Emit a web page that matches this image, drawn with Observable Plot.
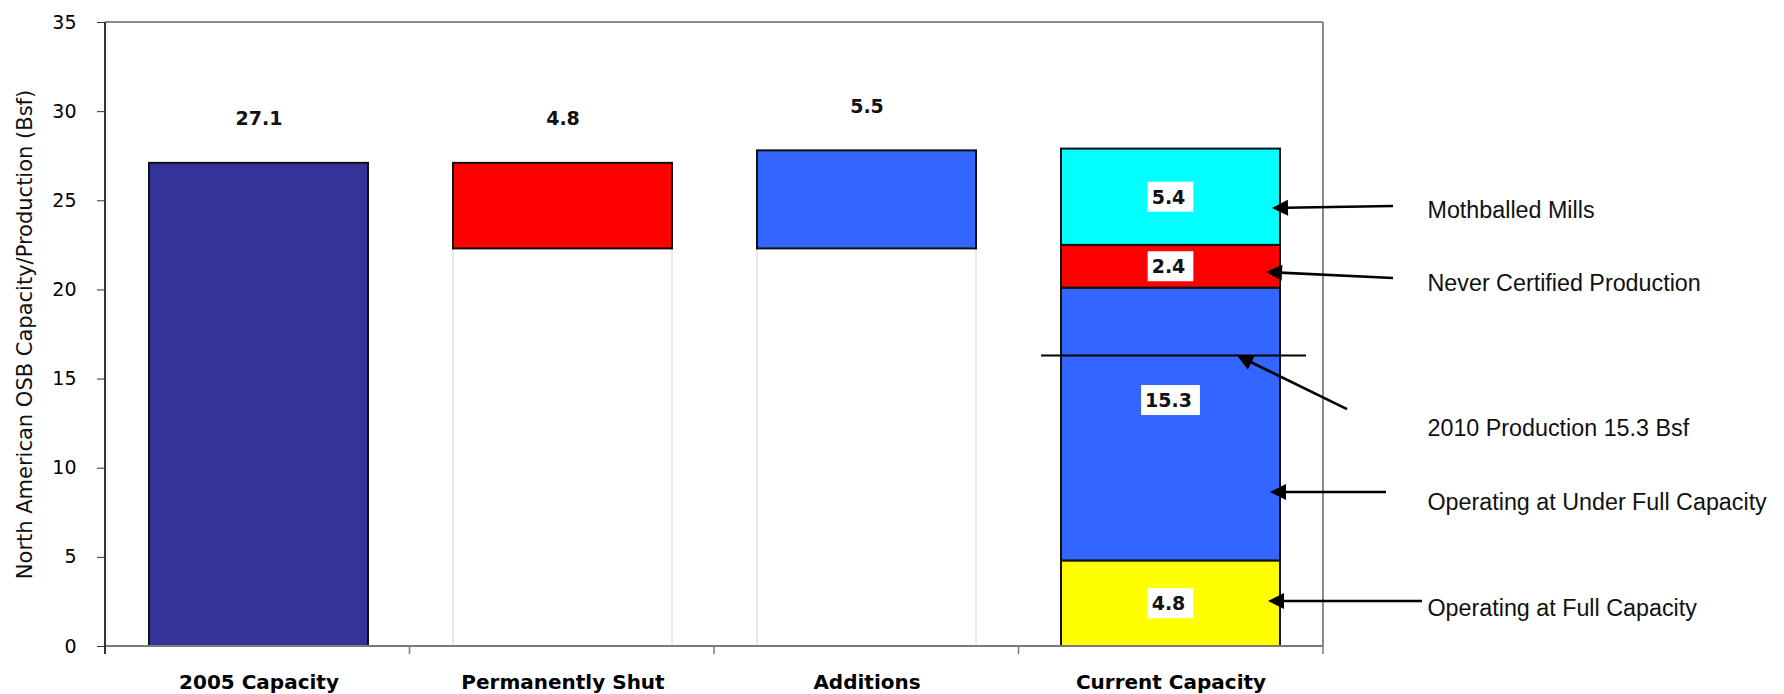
<!DOCTYPE html>
<html>
<head>
<meta charset="utf-8">
<script src="https://cdn.jsdelivr.net/npm/d3@7"></script>
<script src="https://cdn.jsdelivr.net/npm/@observablehq/plot@0.6"></script>
<style>
  html, body { margin: 0; padding: 0; background: #ffffff; }
</style>
</head>
<body>
<div id="chart"></div>
<script>
// ---------- data ----------
const categories = ["2005 Capacity", "Permanently Shut", "Additions", "Current Capacity"];
const capacity2005 = 27.1;
const permanentlyShut = 4.8;
const additions = 5.5;
const barColors = ["#333399", "#FF0000", "#3366FF"];

const currentSegments = ["Operating at Full Capacity", "Operating at Under Full Capacity", "Never Certified Production", "Mothballed Mills"];
const currentValues = [4.8, 15.3, 2.4, 5.4];
const currentColors = ["#FFFF00", "#3366FF", "#FF0000", "#00FFFF"];

const production2010 = 16.3; // level of the drawn "2010 Production" line
const yTicks = [0, 5, 10, 15, 20, 25, 30, 35];
const yLabel = "North American OSB Capacity/Production (Bsf)";

const annotLabels = ["Mothballed Mills", "Never Certified Production", "2010 Production 15.3 Bsf", "Operating at Under Full Capacity", "Operating at Full Capacity"];
const annotTextY = [24.45, 20.36, 12.23, 8.08, 2.13];
const annotTipY  = [24.57, 20.98, production2010, 8.64, 2.52];
const annotTailY = [24.68, 20.64, 13.29, 8.64, 2.52];

// ---------- derived tables ----------
const shutBase = +(capacity2005 - permanentlyShut).toFixed(2);
const addTop = +(shutBase + additions).toFixed(2);

const bars = [
  {cat: categories[0], y1: 0, y2: capacity2005, fill: barColors[0]},
  {cat: categories[1], y1: shutBase, y2: capacity2005, fill: barColors[1]},
  {cat: categories[2], y1: shutBase, y2: addTop, fill: barColors[2]}
];
let acc = 0;
const segs = currentValues.map((v, i) => {
  const s = {cat: categories[3], name: currentSegments[i], value: v, y1: acc, y2: +(acc + v).toFixed(2), fill: currentColors[i]};
  acc = s.y2;
  return s;
});
const allBars = bars.concat(segs);

const bases = [
  {cat: categories[1], y1: 0, y2: shutBase},
  {cat: categories[2], y1: 0, y2: shutBase}
];

const topLabels = [
  {cat: categories[0], y: capacity2005, text: capacity2005.toFixed(1)},
  {cat: categories[1], y: capacity2005, text: permanentlyShut.toFixed(1)},
  {cat: categories[2], y: addTop, text: additions.toFixed(1)}
];

const annotations = annotLabels.map((t, i) => ({text: t, y: annotTextY[i], tipY: annotTipY[i], tailY: annotTailY[i]}));

// ---------- layout constants (pixel styling) ----------
const tipDx  = [-8, -14, -43, -10, -12];   // relative to right edge of Current Capacity bar
const tailDx = [70, 70, 24, 63, 99];       // relative to right edge of plot frame
const segLabelDy = {"Operating at Under Full Capacity": -24};

function bw(x) { return typeof x.bandwidth === "function" ? x.bandwidth() : (x.bandwidth || 0); }

// frame lines & category boundary ticks
const frameMark = (index, scales, values, dims) => {
  const g = d3.create("svg:g");
  const L = dims.marginLeft, R = dims.width - dims.marginRight;
  const T = dims.marginTop, B = dims.height - dims.marginBottom;
  const n = categories.length;
  // top & right (gray)
  g.append("line").attr("x1", L).attr("x2", R).attr("y1", T).attr("y2", T).attr("stroke", "#8a8a8a").attr("stroke-width", 2);
  g.append("line").attr("x1", R).attr("x2", R).attr("y1", T).attr("y2", B).attr("stroke", "#8a8a8a").attr("stroke-width", 2);
  // bottom axis
  g.append("line").attr("x1", L).attr("x2", R).attr("y1", B).attr("y2", B).attr("stroke", "#7a7a7a").attr("stroke-width", 2);
  // boundary ticks
  for (let i = 0; i <= n; i++) {
    const xx = L + (R - L) * i / n;
    g.append("line").attr("x1", xx).attr("x2", xx).attr("y1", B).attr("y2", B + 8).attr("stroke", "#7a7a7a").attr("stroke-width", 1.5);
  }
  // left axis
  g.append("line").attr("x1", L).attr("x2", L).attr("y1", T).attr("y2", B + 8).attr("stroke", "#333333").attr("stroke-width", 2);
  return g.node();
};

const segLabelMark = (index, {x, y}) => {
  const g = d3.create("svg:g");
  const cx = x(categories[3]) + bw(x) / 2;
  const ctx = document.createElement("canvas").getContext("2d");
  ctx.font = "bold 19px 'DejaVu Sans'";
  segs.forEach(s => {
    const cy = y((s.y1 + s.y2) / 2) + (segLabelDy[s.name] || 0);
    const t = s.value.toFixed(1);
    const w = ctx.measureText(t).width + 12;
    g.append("rect").attr("x", cx - w / 2).attr("y", cy - 15).attr("width", w).attr("height", 30).attr("fill", "#ffffff");
    g.append("text").attr("x", cx - 2).attr("y", cy).attr("dy", "0.36em")
      .attr("text-anchor", "middle").attr("font-family", "DejaVu Sans").attr("font-weight", "bold").attr("font-size", 19)
      .attr("fill", "#111").text(t);
  });
  return g.node();
};

const arrowMark = (index, {x, y}, values, dims) => {
  const g = d3.create("svg:g");
  const barLeft = x(categories[3]);
  const barRight = barLeft + bw(x);
  const frameRight = dims.width - dims.marginRight;
  // 2010 production line
  g.append("line").attr("x1", barLeft - 20).attr("x2", frameRight - 17)
    .attr("y1", y(production2010)).attr("y2", y(production2010)).attr("stroke", "#000").attr("stroke-width", 2);
  annotations.forEach((a, i) => {
    const x1 = frameRight + tailDx[i], y1 = y(a.tailY);
    const x2 = barRight + tipDx[i], y2 = y(a.tipY);
    const dx = x2 - x1, dy = y2 - y1, len = Math.hypot(dx, dy);
    const ux = dx / len, uy = dy / len, nx = -uy, ny = ux;
    const Lh = 16, Wh = 8;
    const bx = x2 - ux * Lh, by = y2 - uy * Lh;
    g.append("line").attr("x1", x1).attr("y1", y1).attr("x2", bx + ux * 2).attr("y2", by + uy * 2)
      .attr("stroke", "#000").attr("stroke-width", 2.6);
    g.append("path").attr("d", `M${x2},${y2}L${bx + nx * Wh},${by + ny * Wh}L${bx - nx * Wh},${by - ny * Wh}Z`).attr("fill", "#000");
  });
  return g.node();
};

// ---------- chart ----------
const chart = Plot.plot({
  width: 1784,
  height: 694,
  marginLeft: 105,
  marginRight: 461,
  marginTop: 22,
  marginBottom: 48,
  style: {fontFamily: "DejaVu Sans", background: "#ffffff", color: "#000"},
  x: {domain: categories, paddingInner: 0.28, paddingOuter: 0.14, label: null},
  y: {domain: [0, 35], label: null},
  color: {type: "identity"},
  marks: [
    Plot.barY(bases, {x: "cat", y1: "y1", y2: "y2", fill: "none", stroke: "#d4d4d4", strokeWidth: 1}),
    Plot.barY(allBars, {x: "cat", y1: "y1", y2: "y2", fill: "fill", stroke: "#111", strokeWidth: 2}),
    Plot.text(topLabels, {x: "cat", y: "y", text: "text", dy: -44, fontSize: 19, fontWeight: "bold", fill: "#111"}),
    segLabelMark,
    frameMark,
    Plot.axisY({ticks: yTicks, tickSize: 8, tickPadding: 21, fontSize: 19, tickFormat: d => String(d), stroke: "#333", label: null}),
    Plot.axisX({tickSize: 0, tickPadding: 28, fontSize: 20, fontWeight: "bold", label: null}),
    Plot.text([yLabel], {frameAnchor: "left", dx: -80, rotate: -90, fontSize: 21, textAnchor: "middle", fill: "#111"}),
    arrowMark,
    Plot.text(annotations, {frameAnchor: "right", y: "y", text: "text", dx: 104, textAnchor: "start", fontSize: 23.3, fontFamily: "Liberation Sans", fill: "#111"})
  ]
});

document.getElementById("chart").append(chart);
</script>
</body>
</html>
